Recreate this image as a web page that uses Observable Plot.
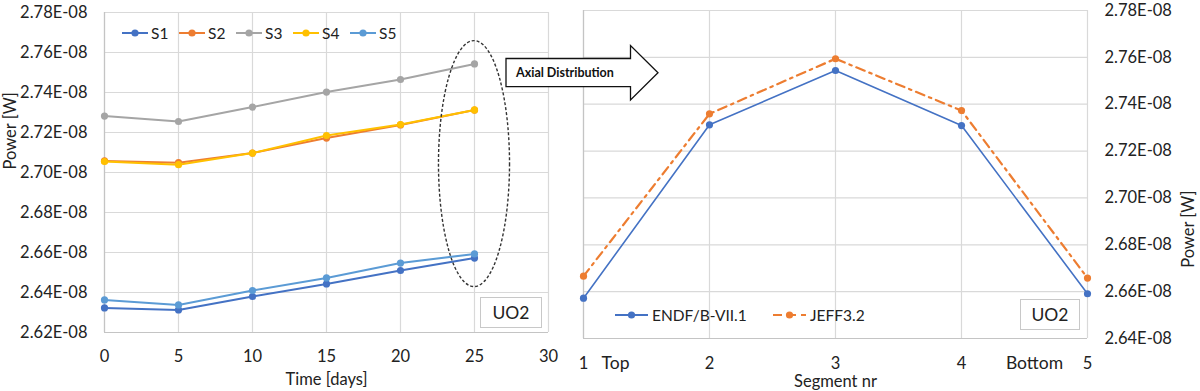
<!DOCTYPE html>
<html>
<head>
<meta charset="utf-8">
<script src="https://cdn.jsdelivr.net/npm/d3@7"></script>
<script src="https://cdn.jsdelivr.net/npm/@observablehq/plot@0.6"></script>
<style>
  html, body { margin: 0; padding: 0; background: #fff; }
  #root { position: relative; width: 1200px; height: 391px; overflow: hidden; font-family: Lato, "Open Sans", sans-serif; color: #222; }
  #root > svg, #root > div { position: absolute; }
  #root g[aria-label="y-axis tick label"], #root g[aria-label="x-axis tick label"] { font-size: 16.5px; }
  .legend { display: flex; align-items: center; font-size: 15.5px; }
  .legend .item { display: flex; align-items: center; }
  .legend svg { display: block; margin-right: 3px; }
  .box { position: absolute; border: 1px solid #c8c8c8; background: #fff; font-size: 17.5px; display: flex; align-items: center; justify-content: center; box-sizing: border-box; }
</style>
</head>
<body>
<div id="root"></div>
<script>
// ---------- data ----------
const days = [0, 5, 10, 15, 20, 25];
const seriesNames = ["S1", "S2", "S3", "S4", "S5"];
const seriesColors = ["#4472C4", "#ED7D31", "#A5A5A5", "#FFC000", "#5B9BD5"];
const S1 = [2.6323e-8, 2.6313e-8, 2.6380e-8, 2.6443e-8, 2.6510e-8, 2.6572e-8];
const S2 = [2.7058e-8, 2.7049e-8, 2.7097e-8, 2.7172e-8, 2.7238e-8, 2.7312e-8];
const S3 = [2.7282e-8, 2.7255e-8, 2.7327e-8, 2.7402e-8, 2.7465e-8, 2.7543e-8];
const S4 = [2.7055e-8, 2.7039e-8, 2.7097e-8, 2.7185e-8, 2.7240e-8, 2.7313e-8];
const S5 = [2.6363e-8, 2.6338e-8, 2.6410e-8, 2.6473e-8, 2.6547e-8, 2.6593e-8];
const leftTicksX = [0, 5, 10, 15, 20, 25, 30];
const leftTicksY = [2.62e-8, 2.64e-8, 2.66e-8, 2.68e-8, 2.70e-8, 2.72e-8, 2.74e-8, 2.76e-8, 2.78e-8];

const segments = [1, 2, 3, 4, 5];
const libNames = ["ENDF/B-VII.1", "JEFF3.2"];
const libColors = ["#4472C4", "#ED7D31"];
const ENDF = [2.6572e-8, 2.7312e-8, 2.7544e-8, 2.7309e-8, 2.6591e-8];
const JEFF = [2.6666e-8, 2.7359e-8, 2.7594e-8, 2.7373e-8, 2.6658e-8];
const rightTicksY = [2.64e-8, 2.66e-8, 2.68e-8, 2.70e-8, 2.72e-8, 2.74e-8, 2.76e-8, 2.78e-8];
const segmentEndLabels = [{seg: 1, label: "Top"}, {seg: 5, label: "Bottom"}];

// annotation ellipse (data coordinates)
const ellipseNote = {x: 25, y: 2.7042e-8, rx: 2.4, ry: 0.0615e-8};

// ---------- build ----------
const seriesData = [S1, S2, S3, S4, S5];
const leftRows = seriesNames.flatMap((s, i) => days.map((d, j) => ({series: s, day: d, value: seriesData[i][j]})));
const libData = [ENDF, JEFF];
const rightRows = libNames.flatMap((s, i) => segments.map((g, j) => ({lib: s, seg: g, value: libData[i][j]})));

const fmtE = d => (d * 1e8).toFixed(2) + "E-08";
const gridColor = "#d9d9d9";
const axisColor = "#c4c4c4";
const textColor = "#222";
const tickFont = 16.5;
const root = document.getElementById("root");

function ellipseMark(note) {
  return (index, scales) => {
    const sx = scales.x, sy = scales.y;
    const cx = sx(note.x), cy = sy(note.y);
    const rx = Math.abs(sx(note.x + note.rx) - cx);
    const ry = Math.abs(sy(note.y + note.ry) - cy);
    const e = d3.create("svg:ellipse")
      .attr("cx", cx).attr("cy", cy).attr("rx", rx).attr("ry", ry)
      .attr("fill", "none").attr("stroke", "#333").attr("stroke-width", 1.4)
      .attr("stroke-dasharray", "3 2");
    return e.node();
  };
}

const left = Plot.plot({
  width: 560, height: 391,
  marginLeft: 104, marginRight: 12, marginTop: 12, marginBottom: 59,
  style: {fontFamily: "Lato, 'Open Sans', sans-serif", fontSize: "15px", color: textColor, background: "transparent", overflow: "visible"},
  x: {domain: [0, 30]},
  y: {domain: [2.62e-8, 2.78e-8]},
  color: {domain: seriesNames, range: seriesColors},
  marks: [
    Plot.gridX(leftTicksX, {stroke: gridColor, strokeOpacity: 1, strokeWidth: 1.2}),
    Plot.gridY(leftTicksY, {stroke: gridColor, strokeOpacity: 1, strokeWidth: 1.2}),
    Plot.ruleX([0], {stroke: axisColor, strokeWidth: 1.2}),
    Plot.ruleY([2.62e-8], {stroke: axisColor, strokeWidth: 1.2}),
    Plot.axisX({ticks: leftTicksX, tickSize: 0, tickPadding: 18, label: null, fill: textColor, fontSize: tickFont}),
    Plot.axisY({ticks: leftTicksY, tickSize: 0, tickPadding: 17, tickFormat: fmtE, label: null, fill: textColor, fontSize: tickFont}),
    Plot.line(leftRows, {x: "day", y: "value", z: "series", stroke: "series", strokeWidth: 2}),
    Plot.dot(leftRows, {x: "day", y: "value", fill: "series", r: 3.6}),
    ellipseMark(ellipseNote),
    Plot.text(["Time [days]"], {text: d => d, frameAnchor: "bottom", lineAnchor: "middle", dy: 47, fontSize: 16.5, fill: textColor}),
    Plot.text(["Power [W]"], {text: d => d, frameAnchor: "left", lineAnchor: "middle", dx: -94, dy: -3, rotate: -90, fontSize: 16.5, fill: textColor})
  ]
});
left.style.left = "0px"; left.style.top = "0px";
root.appendChild(left);

const right = Plot.plot({
  width: 640, height: 391,
  marginLeft: 23, marginRight: 113, marginTop: 10, marginBottom: 53,
  style: {fontFamily: "Lato, 'Open Sans', sans-serif", fontSize: "15px", color: textColor, background: "transparent", overflow: "visible"},
  x: {domain: [1, 5]},
  y: {domain: [2.64e-8, 2.78e-8]},
  color: {domain: libNames, range: libColors},
  marks: [
    Plot.gridX(segments, {stroke: gridColor, strokeOpacity: 1, strokeWidth: 1.2}),
    Plot.gridY(rightTicksY, {stroke: gridColor, strokeOpacity: 1, strokeWidth: 1.2}),
    Plot.ruleX([1], {stroke: axisColor, strokeWidth: 1.2}),
    Plot.ruleY([2.64e-8], {stroke: axisColor, strokeWidth: 1.2}),
    Plot.axisX({ticks: segments, tickSize: 0, tickPadding: 19, tickFormat: d => String(d), label: null, fill: textColor, fontSize: tickFont}),
    Plot.axisY({anchor: "right", ticks: rightTicksY, tickSize: 0, tickPadding: 17, tickFormat: fmtE, label: null, fill: textColor, fontSize: tickFont}),
    Plot.line(rightRows.filter(d => d.lib === libNames[0]), {x: "seg", y: "value", stroke: libColors[0], strokeWidth: 1.6}),
    Plot.line(rightRows.filter(d => d.lib === libNames[1]), {x: "seg", y: "value", stroke: libColors[1], strokeWidth: 2.2, strokeDasharray: "9 5 2.5 5"}),
    Plot.dot(rightRows, {x: "seg", y: "value", fill: "lib", r: 3.6}),
    Plot.text(segmentEndLabels.filter(d => d.seg === 1), {x: "seg", text: "label", frameAnchor: "bottom", lineAnchor: "middle", dx: 32, dy: 25, fontSize: 17.5, fill: textColor}),
    Plot.text(segmentEndLabels.filter(d => d.seg === 5), {x: "seg", text: "label", frameAnchor: "bottom", lineAnchor: "middle", dx: -53, dy: 25, fontSize: 17.5, fill: textColor}),
    Plot.text(["Segment nr"], {text: d => d, frameAnchor: "bottom", lineAnchor: "middle", dy: 43, fontSize: 16.5, fill: textColor}),
    Plot.text(["Power [W]"], {text: d => d, frameAnchor: "right", lineAnchor: "middle", dx: 101, dy: 16, rotate: -90, fontSize: 16.5, fill: textColor})
  ]
});
right.style.left = "560px"; right.style.top = "0px";
root.appendChild(right);

// ---------- legends ----------
function swatch(color, w, dash) {
  return `<svg width="${w}" height="12"><line x1="0" y1="6" x2="${w}" y2="6" stroke="${color}" stroke-width="2" ${dash ? `stroke-dasharray="${dash}"` : ""}/><circle cx="${w / 2}" cy="6" r="3.6" fill="${color}"/></svg>`;
}
const legL = document.createElement("div");
legL.className = "legend";
legL.style.left = "122px"; legL.style.top = "24px";
legL.innerHTML = seriesNames.map((s, i) => `<div class="item" style="width:57px">${swatch(seriesColors[i], 26)}<span>${s}</span></div>`).join("");
root.appendChild(legL);

const legR = document.createElement("div");
legR.className = "legend";
legR.style.left = "615px"; legR.style.top = "306px";
legR.innerHTML = libNames.map((s, i) => `<div class="item" style="width:158px">${swatch(libColors[i], 33, i === 1 ? "9 5" : null)}<span style="margin-left:1px">${s}</span></div>`).join("");
root.appendChild(legR);

// ---------- UO2 boxes ----------
function box(x, y, w, h) {
  const b = document.createElement("div");
  b.className = "box";
  b.style.left = x + "px"; b.style.top = y + "px"; b.style.width = w + "px"; b.style.height = h + "px";
  b.textContent = "UO2";
  root.appendChild(b);
}
box(480, 297, 62, 31);
box(1020, 299, 60, 31);

// ---------- arrow ----------
const arrow = d3.create("svg").attr("width", 1200).attr("height", 391).style("left", "0px").style("top", "0px").style("pointer-events", "none");
arrow.append("polygon")
  .attr("points", "506,58.5 630.5,58.5 630.5,45.5 658,72.7 630.5,100 630.5,86.7 506,86.7")
  .attr("fill", "#fff").attr("stroke", "#111").attr("stroke-width", 1.3);
arrow.append("text").attr("x", 516).attr("y", 73).attr("dy", "0.35em")
  .attr("font-family", "Lato, 'Open Sans', sans-serif").attr("font-weight", "bold").attr("font-size", 12.5)
  .attr("fill", "#111").text("Axial Distribution");
root.appendChild(arrow.node());
</script>
</body>
</html>
